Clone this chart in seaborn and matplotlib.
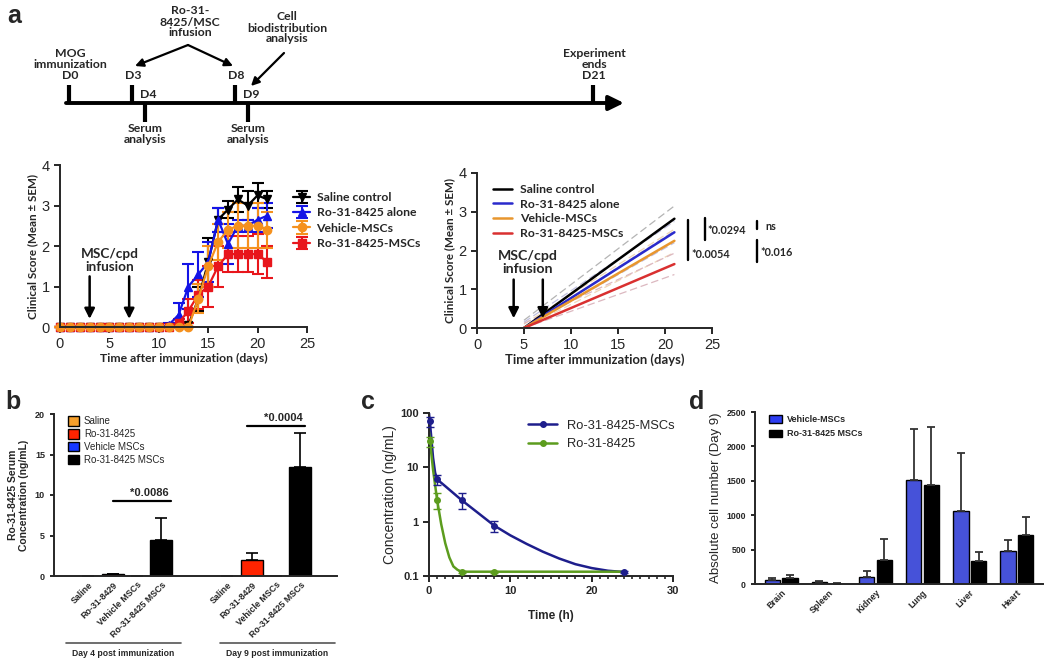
import matplotlib
matplotlib.use("Agg")
import matplotlib.pyplot as plt
import seaborn as sns
import numpy as np
import pandas as pd
from matplotlib.patches import Patch
from matplotlib.lines import Line2D

W, H = 1050, 662

# =========================
# DATA
# =========================
# a: timeline (schematic positions in pixels)
tl_up_labels = ["MOG\nimmunization\nD0", "D3", "D8", "Experiment\nends\nD21"]
tl_up_x = [69, 132, 235, 593]
tl_down_labels = ["D4", "D9"]
tl_down_x = [145, 248]

# a: clinical score
days = list(range(22))
saline_mean = [0, 0, 0, 0, 0, 0, 0, 0, 0, 0, 0, 0, 0, 0.05, 0.7, 1.6, 2.65, 2.9, 3.15, 3.0, 3.25, 3.15]
saline_sem = [0, 0, 0, 0, 0, 0, 0, 0, 0, 0, 0, 0, 0, 0.05, 0.3, 0.6, 0.3, 0.2, 0.3, 0.35, 0.3, 0.2]
ro_mean = [0, 0, 0, 0, 0, 0, 0, 0, 0, 0, 0, 0.05, 0.3, 1.0, 1.3, 1.6, 2.65, 2.05, 2.5, 2.5, 2.65, 2.75]
ro_sem = [0, 0, 0, 0, 0, 0, 0, 0, 0, 0, 0, 0.05, 0.3, 0.55, 0.55, 0.5, 0.3, 0.5, 0.15, 0.15, 0.3, 0.3]
veh_mean = [0, 0, 0, 0, 0, 0, 0, 0, 0, 0, 0, 0, 0, 0, 0.7, 1.5, 2.1, 2.4, 2.5, 2.5, 2.5, 2.4]
veh_sem = [0, 0, 0, 0, 0, 0, 0, 0, 0, 0, 0, 0, 0, 0, 0.35, 0.5, 0.45, 0.45, 0.55, 0.55, 0.55, 0.45]
romsc_mean = [0, 0, 0, 0, 0, 0, 0, 0, 0, 0, 0, 0, 0.1, 0.4, 0.8, 1.0, 1.5, 1.8, 1.8, 1.8, 1.8, 1.6]
romsc_sem = [0, 0, 0, 0, 0, 0, 0, 0, 0, 0, 0, 0, 0.1, 0.3, 0.35, 0.5, 0.5, 0.45, 0.45, 0.45, 0.5, 0.4]

# a: linear regression fits (start / end of line and dashed bands)
reg_x = [5, 21]
reg_saline = [0, 2.82]
reg_ro = [0, 2.47]
reg_veh = [0, 2.25]
reg_romsc = [0, 1.65]
band_saline = ([0.0, 2.5], [0.2, 3.15])
band_ro = ([0.0, 2.2], [0.15, 2.75])
band_veh = ([0.0, 1.95], [0.1, 2.55])
band_romsc = ([0.0, 1.38], [0.12, 1.93])

# b: serum concentration
b_labels = ["Saline", "Ro-31-8429", "Vehicle MSCs", "Ro-31-8425 MSCs"]
b_day4 = [0, 0.2, 0, 4.4]
b_day4_err = [0, 0.1, 0, 2.7]
b_day9 = [0, 2.0, 0, 13.4]
b_day9_err = [0, 0.9, 0, 4.2]

# c: pharmacokinetics
pk_t_msc = [0.1, 1, 4, 8, 24]
pk_c_msc = [70, 6.0, 2.5, 0.85, 0.12]
pk_e_msc = [15, 1.2, 0.8, 0.2, 0.005]
pk_t_free = [0.1, 1, 4, 8]
pk_c_free = [30, 2.5, 0.12, 0.12]
pk_e_free = [6, 0.8, 0.005, 0.005]
fit_t_msc = [0, 0.25, 0.5, 0.75, 1, 2, 4, 6, 8, 10, 12, 14, 16, 18, 20, 22, 24]
fit_c_msc = [100, 40, 15, 8, 6, 4.5, 2.5, 1.46, 0.85, 0.56, 0.39, 0.28, 0.21, 0.165, 0.14, 0.125, 0.118]
fit_t_free = [0, 0.25, 0.5, 1, 1.5, 2, 2.5, 3, 3.5, 4, 8, 24]
fit_c_free = [45, 20, 9, 2.5, 0.9, 0.4, 0.22, 0.15, 0.13, 0.12, 0.12, 0.12]

# d: biodistribution
organs = ["Brain", "Spleen", "Kidney", "Lung", "Liver", "Heart"]
d_vehicle = [65, 30, 100, 1510, 1060, 480]
d_vehicle_err = [15, 20, 90, 740, 850, 160]
d_ro = [80, 5, 350, 1440, 340, 715]
d_ro_err = [50, 5, 300, 840, 120, 265]


# =========================
# STYLE / LAYOUT
# =========================
sns.set_style("ticks")
plt.rcParams['font.family'] = ['Liberation Sans', 'DejaVu Sans']
plt.rcParams['axes.linewidth'] = 1.4
plt.rcParams['xtick.major.width'] = 1.4
plt.rcParams['ytick.major.width'] = 1.4
plt.rcParams['xtick.minor.width'] = 1.2

CAL = ['Lato', 'DejaVu Sans']

fig = plt.figure(figsize=(W / 100, H / 100), dpi=100)


def px(x, y, w, h):
    return [x / W, 1 - (y + h) / H, w / W, h / H]


ov = fig.add_axes([0, 0, 1, 1])
ov.set_xlim(0, W)
ov.set_ylim(H, 0)
ov.axis("off")


def clean(ax):
    ax.set_facecolor("none")
    sns.despine(ax=ax)


# =========================
# PANEL a - timeline
# =========================
ov.annotate("", xy=(624, 103), xytext=(66, 103),
            arrowprops=dict(arrowstyle="-|>,head_length=0.45,head_width=0.22",
                            lw=2.8, color="black", shrinkA=0, shrinkB=0,
                            mutation_scale=20))
for x, lab in zip(tl_up_x, tl_up_labels):
    ov.plot([x, x], [85, 103], color="black", lw=3, solid_capstyle="butt")
    ov.text(x + 1, 81, lab, ha="center", va="bottom", family=CAL,
            weight="bold", fontsize=8.8, linespacing=1.0)
for x, lab in zip(tl_down_x, tl_down_labels):
    ov.plot([x, x], [103, 122], color="black", lw=3, solid_capstyle="butt")
    ov.text(x + 3, 94, lab, ha="center", va="center", family=CAL,
            weight="bold", fontsize=8.8)
    ov.text(x, 134, "Serum\nanalysis", ha="center", va="center", family=CAL,
            weight="bold", fontsize=8.8, linespacing=1.0)

ov.text(190, 22, "Ro-31-\n8425/MSC\ninfusion", ha="center", va="center",
        family=CAL, weight="bold", fontsize=8.8, linespacing=1.0)
for x_end in [135, 233]:
    ov.annotate("", xy=(x_end, 66), xytext=(188, 45),
                arrowprops=dict(arrowstyle="-|>", lw=1.6, color="black",
                                shrinkA=0, shrinkB=0, mutation_scale=12))
ov.text(287, 28, "Cell\nbiodistribution\nanalysis", ha="center", va="center",
        family=CAL, weight="bold", fontsize=8.8, linespacing=1.0)
ov.annotate("", xy=(251, 86), xytext=(284, 53),
            arrowprops=dict(arrowstyle="-|>", lw=1.6, color="black",
                            shrinkA=0, shrinkB=0, mutation_scale=12))

# panel letters
for lab, (x, y) in zip("abcd", [(14, 16), (13, 402), (368, 402), (697, 402)]):
    ov.text(x, y, lab, ha="center", va="center", weight="bold", fontsize=18)


# =========================
# PANEL a - clinical score curves
# =========================
ax1 = fig.add_axes(px(60, 165, 247, 162))
clean(ax1)
series = [
    ("Saline control", saline_mean, saline_sem, "black", "v"),
    ("Ro-31-8425 alone", ro_mean, ro_sem, "#1414E6", "^"),
    ("Ro-31-8425-MSCs", romsc_mean, romsc_sem, "#E8161C", "s"),
    ("Vehicle-MSCs", veh_mean, veh_sem, "#F5911E", "o"),
]
for name, m, s, col, mk in series:
    ax1.errorbar(days, m, yerr=s, color=col, marker=mk, ms=6, lw=1.6,
                 elinewidth=1.5, capsize=4, capthick=1.5, label=name,
                 clip_on=False)
ax1.set_xlim(0, 25)
ax1.set_ylim(0, 4)
ax1.set_xticks([0, 5, 10, 15, 20, 25])
ax1.set_yticks([0, 1, 2, 3, 4])
ax1.tick_params(labelsize=10.5, length=4)
ax1.set_xlabel("Time after immunization (days)", family=CAL, weight="bold",
               fontsize=8.8, labelpad=1)
ax1.set_ylabel("Clinical Score (Mean \u00b1 SEM)", family=CAL, weight="bold",
               fontsize=8.4, labelpad=2)
h, l = ax1.get_legend_handles_labels()
order = [0, 1, 3, 2]
ax1.legend([h[i] for i in order], [l[i] for i in order], loc="upper left",
           bbox_to_anchor=(0.9, 0.9), frameon=False, handlelength=1.4,
           handletextpad=0.5, labelspacing=0.35,
           prop=dict(family=CAL, weight="bold", size=8.8))
ax1.text(5, 1.65, "MSC/cpd\ninfusion", ha="center", va="center", family=CAL,
         weight="bold", fontsize=9.8, linespacing=1.1)
for x in [3, 7]:
    ax1.annotate("", xy=(x, 0.2), xytext=(x, 1.25),
                 arrowprops=dict(arrowstyle="-|>", lw=1.8, color="black",
                                 shrinkA=0, shrinkB=0, mutation_scale=15))


# =========================
# PANEL a - linear regression
# =========================
ax2 = fig.add_axes(px(477, 173, 235, 155))
clean(ax2)
regs = [
    ("Saline control", reg_saline, band_saline, "black", "#b4b4b4"),
    ("Ro-31-8425 alone", reg_ro, band_ro, "#2A2ACC", "#c0c0e0"),
    ("Vehicle-MSCs", reg_veh, band_veh, "#E8962E", "#efd6b8"),
    ("Ro-31-8425-MSCs", reg_romsc, band_romsc, "#D93030", "#dcb8c0"),
]
for name, yy, (lo, hi), col, bcol in regs:
    ax2.plot(reg_x, lo, color=bcol, lw=0.9, ls=(0, (6, 3)))
    ax2.plot(reg_x, hi, color=bcol, lw=0.9, ls=(0, (6, 3)))
for name, yy, (lo, hi), col, bcol in regs:
    sns.lineplot(x=reg_x, y=yy, color=col, lw=1.8, label=name, ax=ax2)
ax2.set_xlim(0, 25)
ax2.set_ylim(0, 4)
ax2.set_xticks([0, 5, 10, 15, 20, 25])
ax2.set_yticks([0, 1, 2, 3, 4])
ax2.tick_params(labelsize=10.5, length=4)
ax2.set_xlabel("Time after immunization (days)", family=CAL, weight="bold",
               fontsize=9.4, labelpad=1)
ax2.set_ylabel("Clinical Score (Mean \u00b1 SEM)", family=CAL, weight="bold",
               fontsize=8.4, labelpad=2)
ax2.legend(loc="upper left", bbox_to_anchor=(0.02, 1.0), frameon=False,
           handlelength=1.6, handletextpad=0.6, labelspacing=0.3,
           prop=dict(family=CAL, weight="bold", size=8.8))
ax2.text(5.4, 1.7, "MSC/cpd\ninfusion", ha="center", va="center", family=CAL,
         weight="bold", fontsize=10.2, linespacing=1.1)
for x in [3.9, 7.0]:
    ax2.annotate("", xy=(x, 0.25), xytext=(x, 1.25),
                 arrowprops=dict(arrowstyle="-|>", lw=1.8, color="black",
                                 shrinkA=0, shrinkB=0, mutation_scale=15))

# significance marks
for x, y0, y1 in [(688, 220, 260), (705, 218, 240), (757, 221, 229), (757, 240, 262)]:
    ov.plot([x, x], [y0, y1], color="black", lw=1.7)
for x, y, s in [(707, 230, "*0.0294"), (691, 254, "*0.0054"),
                (765, 226, "ns"), (760, 253, "*0.016")]:
    ov.text(x, y, s, ha="left", va="center", family=CAL, weight="bold",
            fontsize=7.8)


# =========================
# PANEL b - serum concentration
# =========================
ax3 = fig.add_axes(px(54, 414, 283, 162))
clean(ax3)
b_colors = ["#F6A02C", "#FF2400", "#1638FF", "black"]
pos4 = np.array([0, 1, 2, 3])
pos9 = pos4 + 5.7
ax3.bar(pos4, b_day4, width=0.9, color=b_colors, edgecolor="black", lw=1)
ax3.bar(pos9, b_day9, width=0.9, color=b_colors, edgecolor="black", lw=1)
ax3.errorbar(pos4, b_day4, yerr=[np.zeros(4), b_day4_err], fmt="none",
             ecolor="black", elinewidth=1.2, capsize=4, capthick=1.2)
ax3.errorbar(pos9, b_day9, yerr=[np.zeros(4), b_day9_err], fmt="none",
             ecolor="black", elinewidth=1.2, capsize=4, capthick=1.2)
ax3.set_xlim(-1.4, 10.2)
ax3.set_ylim(0, 20)
ax3.set_yticks([0, 5, 10, 15, 20])
ax3.set_xticks(np.concatenate([pos4, pos9]))
ax3.set_xticklabels(b_labels * 2, rotation=45, ha="right",
                    rotation_mode="anchor", fontsize=6.4, weight="bold")
ax3.tick_params(axis="x", length=0, pad=3)
ax3.tick_params(axis="y", labelsize=6.5, length=3)
for t in ax3.get_yticklabels():
    t.set_fontweight("bold")
ax3.set_ylabel("Ro-31-8425 Serum\nConcentration (ng/mL)", weight="bold",
               fontsize=7.5, labelpad=4)
ax3.legend(handles=[Patch(facecolor=c, edgecolor="black", label=n)
                    for c, n in zip(b_colors, ["Saline", "Ro-31-8425", "Vehicle MSCs",
                                               "Ro-31-8425 MSCs"])],
           loc="upper left", bbox_to_anchor=(0.02, 1.04), frameon=False,
           fontsize=7, handlelength=1.1, handleheight=1.1, handletextpad=0.5,
           labelspacing=0.3)
# significance bars
for (xa, xb, y, txt) in [(1, 3.4, 9.2, "*0.0086"), (6.5, 8.9, 18.5, "*0.0004")]:
    ax3.plot([xa, xb], [y, y], color="black", lw=1.6)
    ax3.text((xa + xb) / 2 + 0.3, y + 0.4, txt, ha="center", va="bottom",
             weight="bold", fontsize=8)
# group brackets below the labels
tr = ax3.get_xaxis_transform()
for (xa, xb, txt) in [(-0.9, 3.8, "Day 4 post immunization"),
                      (5.4, 10.1, "Day 9 post immunization")]:
    ax3.plot([xa, xb], [-0.415, -0.415], color="#555555", lw=1.2,
             transform=tr, clip_on=False)
    ax3.text((xa + xb) / 2, -0.48, txt, ha="center", va="center",
             weight="bold", fontsize=6.2, transform=tr)


# =========================
# PANEL c - pharmacokinetics
# =========================
ax4 = fig.add_axes(px(429, 413, 244, 163))
clean(ax4)
navy = "#1E1E8C"
green = "#5C9C1E"
sns.lineplot(x=fit_t_msc, y=fit_c_msc, color=navy, lw=1.8, ax=ax4)
sns.lineplot(x=fit_t_free, y=fit_c_free, color=green, lw=1.8, ax=ax4)
ax4.errorbar(pk_t_msc, pk_c_msc, yerr=pk_e_msc, fmt="o", ms=4, color=navy,
             elinewidth=1, capsize=3, clip_on=False, zorder=5)
ax4.errorbar(pk_t_free, pk_c_free, yerr=pk_e_free, fmt="o", ms=4, color=green,
             elinewidth=1, capsize=3, clip_on=False, zorder=5)
ax4.set_yscale("log")
ax4.set_ylim(0.1, 100)
ax4.set_xlim(0, 30)
ax4.set_yticks([0.1, 1, 10, 100])
ax4.set_yticklabels(["0.1", "1", "10", "100"])
ax4.yaxis.set_minor_locator(matplotlib.ticker.NullLocator())
ax4.set_xticks([0, 10, 20, 30])
ax4.set_xticks(np.arange(0, 31, 1), minor=True)
ax4.tick_params(axis="both", which="major", length=4, labelsize=8)
ax4.tick_params(axis="x", which="minor", length=2.5)
for t in ax4.get_xticklabels() + ax4.get_yticklabels():
    t.set_fontweight("bold")
ax4.set_xlabel("Time (h)", weight="bold", fontsize=8.5, labelpad=10)
ax4.set_ylabel("Concentration (ng/mL)", fontsize=10, labelpad=2)
ax4.legend(handles=[Line2D([], [], color=navy, marker="o", ms=4, lw=1.8,
                           label="Ro-31-8425-MSCs"),
                    Line2D([], [], color=green, marker="o", ms=4, lw=1.8,
                           label="Ro-31-8425")],
           loc="upper left", bbox_to_anchor=(0.36, 1.03), frameon=False,
           fontsize=9.3, handlelength=2.2, labelspacing=0.5)


# =========================
# PANEL d - biodistribution
# =========================
ax5 = fig.add_axes(px(755, 412, 288, 172))
clean(ax5)
df_d = pd.DataFrame({
    "organ": organs * 2,
    "cells": d_vehicle + d_ro,
    "group": ["Vehicle-MSCs"] * len(organs) + ["Ro-31-8425 MSCs"] * len(organs),
})
d_colors = ["#2D3DF2", "black"]
sns.barplot(data=df_d, x="organ", y="cells", hue="group", palette=d_colors,
            width=0.76, gap=0.12, edgecolor="black", linewidth=1,
            errorbar=None, ax=ax5)
xs = np.arange(len(organs))
for off, vals, errs in [(-0.19, d_vehicle, d_vehicle_err), (0.19, d_ro, d_ro_err)]:
    ax5.errorbar(xs + off, vals, yerr=[np.zeros(len(vals)), errs], fmt="none",
                 ecolor="#333333", elinewidth=1.3, capsize=3, capthick=1.3)
ax5.set_xlim(-0.56, 5.56)
ax5.set_ylim(0, 2500)
ax5.set_yticks([0, 500, 1000, 1500, 2000, 2500])
ax5.set_xlabel("")
ax5.set_ylabel("Absolute cell number (Day 9)", fontsize=9.5, labelpad=3)
ax5.tick_params(axis="x", length=0, pad=3)
ax5.tick_params(axis="y", length=3, labelsize=6.3)
ax5.set_xticks(xs)
ax5.set_xticklabels(organs, rotation=45, ha="right", rotation_mode="anchor",
                    fontsize=6.3, weight="bold")
for t in ax5.get_yticklabels():
    t.set_fontweight("bold")
ax5.legend(handles=[Patch(facecolor=c, edgecolor="black", label=n)
                    for c, n in zip(d_colors, ["Vehicle-MSCs", "Ro-31-8425 MSCs"])],
           loc="upper left", bbox_to_anchor=(0.02, 1.03), frameon=False,
           prop=dict(weight="bold", size=6.5), handlelength=1.5,
           handleheight=0.9, handletextpad=0.5, labelspacing=0.6)

fig.savefig("out.png", dpi=100)
